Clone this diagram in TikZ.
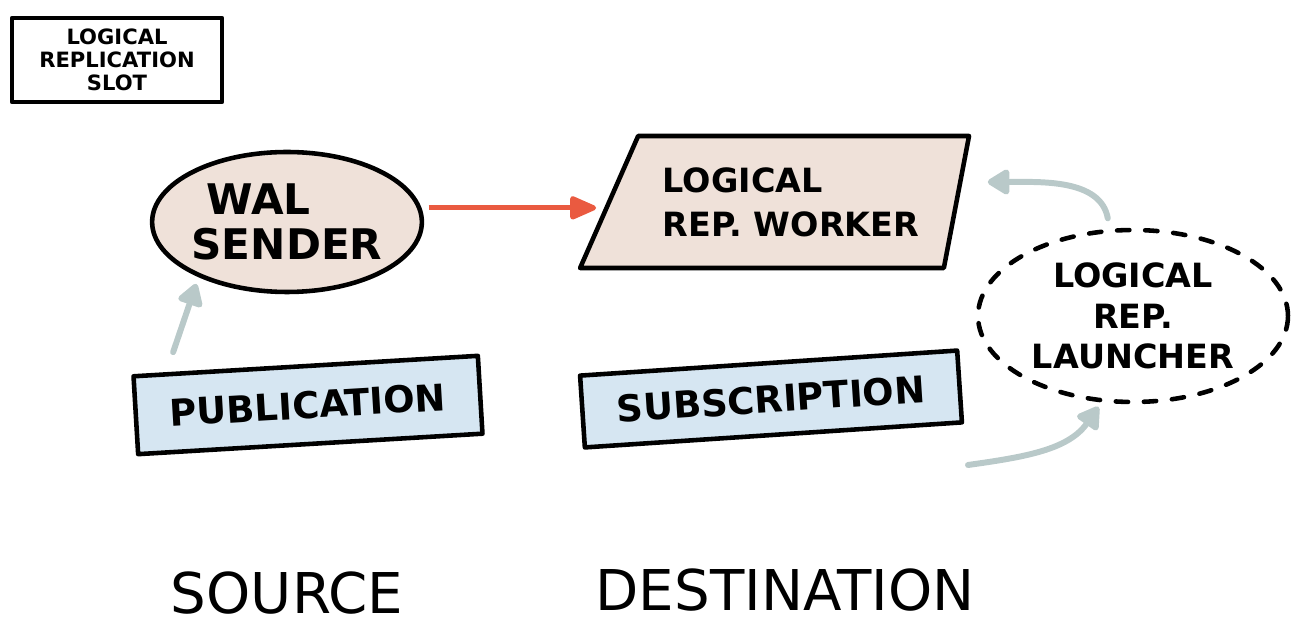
\documentclass[tikz,border=0pt]{standalone}
\usepackage{fontspec}
\setmainfont{DejaVu Sans}
\usetikzlibrary{shapes.geometric,arrows.meta}
\definecolor{sandfill}{HTML}{EFE1D9}
\definecolor{skyfill}{HTML}{D6E6F2}
\definecolor{redflow}{HTML}{EA5A40}
\definecolor{greyflow}{HTML}{B9C9C9}
\begin{document}
\begin{tikzpicture}[
    x = 0.02cm,
    y = 0.02cm,
    hand/.style = {draw=black, line width=2.6pt, line join=round},
    blob/.style = {hand, ellipse, fill=sandfill, align=left, inner sep=0pt,
              font=\bfseries\fontsize{24}{26}\selectfont},
    card/.style = {hand, rectangle, fill=skyfill, inner sep=0pt,
              font=\bfseries\fontsize{21}{24}\selectfont},
    flow/.style = {draw=greyflow, line width=3.4pt, line cap=round,
              -{Triangle[length=14pt,width=16pt,round]}},
    label/.style = {font=\fontsize{32}{36}\selectfont},
    ]

\useasboundingbox (0,0) rectangle (1304,632);

\node[hand, rectangle, minimum width=4.2cm, minimum height=1.68cm, align=center,
      font=\bfseries\fontsize{12}{13}\selectfont] (slot_box) at (117,572)
      {LOGICAL\\REPLICATION\\SLOT};

\node[blob, minimum width=5.1cm, minimum height=2.8cm] (wal_sender) at (287,410)
      {\hspace*{0.3cm}WAL\\SENDER};

\node[hand, trapezium, trapezium left angle=50, trapezium right angle=110,
      trapezium stretches body, fill=sandfill, minimum width=7.78cm,
      minimum height=2.64cm, align=left, inner sep=0pt,
      font=\bfseries\fontsize{19}{25}\selectfont] (rep_worker) at (791,430)
      {LOGICAL\\REP. WORKER};

\node[hand, ellipse, dash pattern=on 7pt off 9pt, line cap=round,
      minimum width=6.2cm, minimum height=3.44cm, align=center, inner sep=0pt,
      font=\bfseries\fontsize{19}{23}\selectfont] (rep_launcher) at (1133,316)
      {LOGICAL\\REP.\\LAUNCHER};

\node[card, rotate=3.4, minimum width=6.9cm, minimum height=1.56cm] (pub_box) at (308,227)
      {PUBLICATION};
\node[card, rotate=3.8, minimum width=7.56cm, minimum height=1.44cm] (sub_box) at (771,233)
      {SUBSCRIPTION};

\node[label] (source) at (287,39) {SOURCE};
\node[label] (destination) at (785,42) {DESTINATION};

\coordinate (tail) at (968,167);

\draw [draw=redflow, line width=2.8pt, shorten <=4pt, shorten >=6pt,
      -{Triangle[length=17pt,width=14pt,round]}] (wal_sender.6) -- (wal_sender.6 -| rep_worker.west);
\draw [flow, shorten >=4pt] ([shift={(42,22)}]pub_box.north west) -- (wal_sender.212);
\draw [flow, shorten <=6pt] (rep_launcher.105) to[out=100, in=0] ([shift={(29,20)}]rep_worker.east);
\draw [flow, shorten >=3pt] (tail) to[out=8, in=235] (rep_launcher.250);

\end{tikzpicture}
\end{document}
